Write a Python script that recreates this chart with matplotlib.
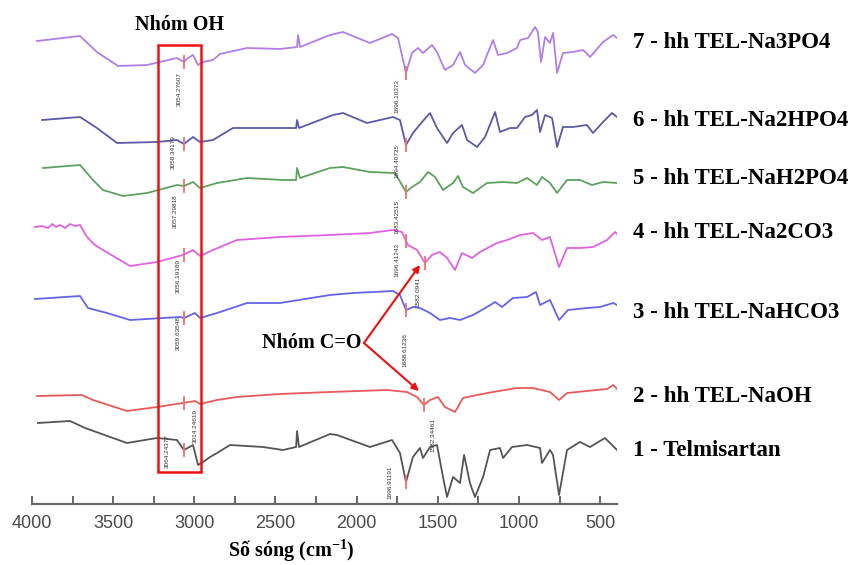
import numpy as np
import matplotlib
matplotlib.use("Agg")
import matplotlib.pyplot as plt
from matplotlib.patches import Rectangle
from matplotlib.ticker import MultipleLocator

# ─────────────────────────────────────────────
# DATA  – FTIR spectra (stacked transmittance, a.u.)
# ─────────────────────────────────────────────
WN_7 = [3969, 3704, 3600, 3470, 3291, 3107, 3064, 3039, 3008, 2977, 2947, 2885, 2842, 2675,
        2472, 2367, 2361, 2349, 2164, 2084, 1918, 1782, 1745, 1696, 1659, 1622, 1591, 1536,
        1505, 1456, 1406, 1363, 1332, 1271, 1221, 1160, 1129, 1073, 1012, 993, 944, 901,
        883, 864, 839, 809, 790, 765, 729, 667, 605, 562, 482, 420, 396]
T_7 = [524, 529, 513, 499, 500, 507, 503, 507, 510, 500, 503, 505, 511, 517,
       516, 518, 530, 518, 530, 533, 522, 531, 527, 492, 512, 517, 512, 520,
       513, 495, 500, 513, 500, 492, 500, 525, 510, 512, 517, 525, 527, 538,
       533, 503, 528, 522, 532, 492, 512, 513, 515, 508, 523, 530, 527]

WN_6 = [3938, 3704, 3600, 3476, 3230, 3107, 3064, 3008, 2965, 2885, 2762, 2454, 2373, 2367,
        2355, 2146, 2084, 1936, 1776, 1733, 1696, 1653, 1597, 1548, 1505, 1443, 1406, 1351,
        1320, 1258, 1209, 1147, 1117, 1055, 1012, 963, 920, 889, 870, 839, 796, 765, 729,
        667, 581, 544, 482, 427, 396]
T_6 = [445, 448, 437, 422, 423, 425, 421, 428, 423, 425, 437, 437, 437, 445,
       437, 450, 452, 442, 448, 445, 420, 432, 443, 452, 437, 422, 432, 440,
       425, 418, 428, 453, 433, 437, 437, 448, 450, 455, 433, 450, 447, 418, 438,
       438, 440, 432, 443, 452, 448]

WN_5 = [3932, 3704, 3624, 3563, 3439, 3291, 3107, 3064, 3008, 2965, 2860, 2675, 2454, 2373,
        2367, 2349, 2164, 2084, 1918, 1764, 1696, 1659, 1610, 1560, 1517, 1468, 1406, 1375,
        1345, 1283, 1197, 1098, 1012, 950, 889, 858, 809, 765, 704, 624, 550, 482, 396]
T_5 = [397, 400, 385, 375, 369, 372, 380, 379, 383, 377, 382, 387, 385, 385,
       397, 387, 397, 398, 393, 392, 373, 378, 383, 393, 388, 375, 382, 389,
       378, 372, 382, 383, 382, 387, 380, 388, 382, 372, 385, 385, 380, 383, 382]

WN_4 = [3982, 3938, 3901, 3874, 3852, 3827, 3797, 3766, 3735, 3704, 3661, 3612, 3563, 3396,
        3230, 3070, 3008, 2965, 2885, 2737, 2472, 2164, 1918, 1776, 1721, 1684, 1628, 1579,
        1536, 1487, 1443, 1394, 1351, 1289, 1240, 1135, 1073, 993, 913, 858, 809, 753, 704,
        624, 544, 457, 408, 396]
T_4 = [338, 339, 337, 341, 338, 340, 337, 341, 339, 340, 328, 320, 315, 299,
       303, 310, 315, 309, 315, 325, 328, 330, 332, 335, 333, 320, 315, 302,
       310, 313, 307, 295, 312, 307, 313, 322, 325, 330, 332, 325, 328, 298, 317,
       317, 318, 325, 333, 331]

WN_3 = [3982, 3704, 3655, 3538, 3396, 3088, 3064, 2996, 2965, 2860, 2675, 2472, 2164, 2022,
        1776, 1733, 1696, 1653, 1610, 1548, 1487, 1425, 1363, 1283, 1197, 1147, 1104, 1037,
        950, 895, 870, 809, 753, 698, 581, 500, 420, 396]
T_3 = [266, 269, 257, 252, 245, 248, 247, 252, 247, 252, 262, 262, 270, 272,
       274, 270, 255, 258, 257, 252, 245, 247, 245, 250, 258, 263, 258, 267,
       268, 273, 260, 265, 245, 255, 257, 258, 262, 260]

WN_2 = [3969, 3692, 3624, 3415, 3230, 3070, 2996, 2965, 2860, 2737, 2472, 2164, 1813, 1690,
        1628, 1585, 1548, 1499, 1456, 1394, 1345, 1258, 1160, 1012, 913, 809, 753, 704, 581,
        457, 420, 396]
T_2 = [169, 170, 165, 154, 158, 162, 164, 161, 165, 168, 171, 173, 175, 173,
       168, 160, 165, 168, 158, 153, 167, 170, 173, 177, 177, 173, 165, 172, 174,
       176, 180, 176]

WN_1 = [3963, 3766, 3673, 3415, 3230, 3107, 3064, 3008, 2977, 2947, 2903, 2860, 2780, 2577,
        2454, 2373, 2367, 2355, 2164, 2121, 1918, 1782, 1733, 1696, 1653, 1610, 1591, 1548,
        1505, 1468, 1443, 1406, 1363, 1338, 1302, 1271, 1221, 1178, 1117, 1098, 1043, 950,
        870, 858, 809, 790, 753, 704, 624, 562, 470, 396]
T_1 = [142, 144, 137, 122, 127, 125, 115, 120, 100, 103, 108, 112, 120, 118,
       115, 118, 134, 118, 131, 130, 118, 125, 112, 83, 108, 117, 107, 118,
       120, 88, 68, 88, 82, 110, 82, 68, 88, 115, 117, 107, 118, 120,
       117, 102, 115, 110, 70, 115, 123, 118, 127, 115]

LABELS = ["1 - Telmisartan", "2 - hh TEL-NaOH", "3 - hh TEL-NaHCO3", "4 - hh TEL-Na2CO3",
          "5 - hh TEL-NaH2PO4", "6 - hh TEL-Na2HPO4", "7 - hh TEL-Na3PO4"]

# marked peaks per spectrum (cm-1)
PEAKS_1 = [3064, 1696]
PEAKS_2 = [3064, 1585]
PEAKS_3 = [3064, 1696]
PEAKS_4 = [3064, 1696, 1579]
PEAKS_5 = [3064, 1696]
PEAKS_6 = [3064, 1696]
PEAKS_7 = [3064, 1696]

# peak value labels: text, wavenumber, level
PEAK_TEXT = [
    ("3054.27607", 3094, 476), ("3058.34179", 3129, 413), ("3057.29818", 3119, 354),
    ("3056.19189", 3098, 289), ("3059.63548", 3098, 232), ("3064.24377", 3168, 114),
    ("3014.24619", 2996, 139), ("1696.10373", 1751, 469), ("1694.40735", 1751, 404),
    ("1683.42515", 1751, 348), ("1696.41243", 1751, 305), ("1582.0941", 1622, 273),
    ("1688.61236", 1702, 215), ("1696.91191", 1794, 83), ("1582.34461", 1530, 130),
]

# ─────────────────────────────────────────────
# STYLE
# ─────────────────────────────────────────────
COLORS = ["#555555", "#e85a5a", "#6464e6", "#e062e0", "#5ca25c", "#5a5aa8", "#b07ee8"]
LABEL_Y = [451, 397, 313, 232, 178, 120, 42]     # pixel rows of right-hand labels
MARK = "#f07070"
SERIF = "Liberation Serif"

plt.rcParams.update({
    "font.family": "Liberation Sans",
    "mathtext.fontset": "custom",
    "mathtext.rm": "Liberation Serif:bold",
    "mathtext.it": "Liberation Serif:bold",
    "mathtext.bf": "Liberation Serif:bold",
})


def main():
    W, H = 851, 565
    fig = plt.figure(figsize=(W / 100, H / 100), dpi=100)
    ax = fig.add_axes([32 / W, 61 / H, (617 - 32) / W, (H - 61) / H])

    spectra = [(WN_1, T_1, PEAKS_1), (WN_2, T_2, PEAKS_2), (WN_3, T_3, PEAKS_3),
               (WN_4, T_4, PEAKS_4), (WN_5, T_5, PEAKS_5), (WN_6, T_6, PEAKS_6),
               (WN_7, T_7, PEAKS_7)]

    for (wn, t, peaks), color, label, ly in zip(spectra, COLORS, LABELS, LABEL_Y):
        wn = np.asarray(wn, float)
        t = np.asarray(t, float)
        ax.plot(wn, t, color=color, lw=1.3, solid_joinstyle="round", zorder=3)
        pv = np.interp(peaks, wn[::-1], t[::-1])
        ax.plot(peaks, pv, ls="none", marker="|", ms=10, mew=1.3, color=MARK, zorder=4)
        fig.text(633 / W, 1 - ly / H, label, fontfamily=SERIF, fontweight="bold",
                 fontsize=16.5, ha="left", va="center")

    for txt, x, y in PEAK_TEXT:
        ax.text(x, y, txt, rotation=90, fontsize=4.6, color="#333333",
                ha="center", va="center", zorder=5)

    # OH region box
    ax.add_patch(Rectangle((2959, 93), 265, 427, fill=False, ec="#ee1111", lw=1.8, zorder=6))
    ax.text(3090, 540, "Nhóm OH", fontfamily=SERIF, fontweight="bold", fontsize=14.5,
            ha="center", va="center")

    # C=O arrows
    vertex = (1955, 222)
    for tip in [(1610, 300), (1616, 174)]:
        ax.annotate("", xy=tip, xytext=vertex,
                    arrowprops=dict(arrowstyle="-|>", color="#ee1111", lw=1.5,
                                    mutation_scale=10, shrinkA=0, shrinkB=0), zorder=6)
    ax.text(1973, 222, "Nhóm C=O", fontfamily=SERIF, fontweight="bold", fontsize=14.5,
            ha="right", va="center")

    ax.set_xlim(4000, 396)
    ax.set_ylim(61, 565)
    for s in ["left", "top", "right"]:
        ax.spines[s].set_visible(False)
    ax.spines["bottom"].set_color("#666666")
    ax.spines["bottom"].set_linewidth(1.6)
    ax.set_yticks([])
    ax.xaxis.set_major_locator(MultipleLocator(500))
    ax.xaxis.set_minor_locator(MultipleLocator(250))
    ax.tick_params(axis="x", which="both", direction="in", length=6, width=1.4,
                   color="#666666", labelsize=13, labelcolor="#4a4a4a", pad=8)
    ax.patch.set_alpha(0)

    fig.text(291 / W, 1 - 551 / H, "Số sóng (cm$^{-1}$)", fontfamily=SERIF,
             fontweight="bold", fontsize=14.5, ha="center", va="center")

    fig.savefig("out.png", dpi=100)


if __name__ == "__main__":
    main()
